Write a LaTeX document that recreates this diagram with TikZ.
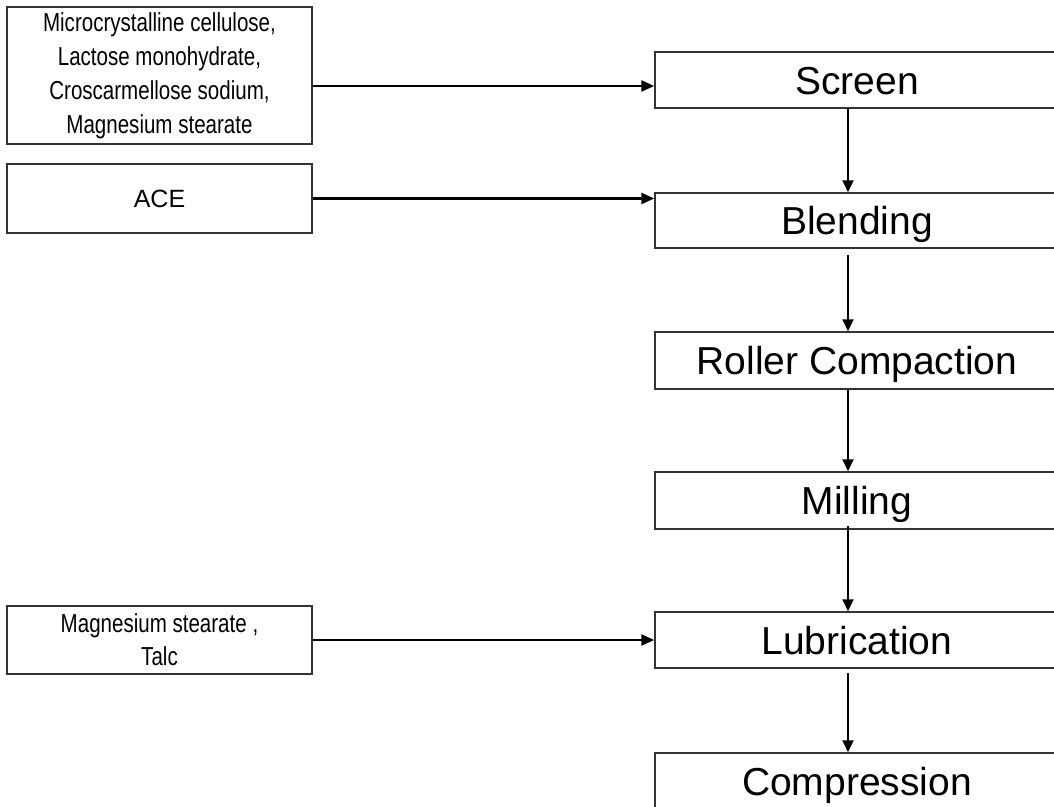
\documentclass[tikz,border=0pt]{standalone}
\usepackage{fontspec}
\setmainfont{Liberation Sans}
\newfontfamily\narrowfont[FakeStretch=0.79]{Liberation Sans}
\usepackage{tikz}
\usetikzlibrary{arrows.meta,positioning}
\definecolor{framecolor}{HTML}{333333}

\begin{document}
\begin{tikzpicture}[x=1pt,y=-1pt,
  stepbox/.style={draw=framecolor,line width=1.5pt,minimum width=404pt,minimum height=56pt,
    inner sep=0pt,text height=28pt,text depth=0pt,font=\fontsize{39}{44}\selectfont},
  inbox/.style={draw=framecolor,line width=1.5pt,minimum width=305pt,inner sep=0pt,align=center,
    font=\narrowfont\fontsize{26}{34}\selectfont},
  flow/.style={-{Triangle[length=12pt,width=11pt]},line width=2pt},
  feed/.style={-{Triangle[length=13pt,width=11pt]},line width=2.6pt}]
  \useasboundingbox (0,0) rectangle (1054,806);
  % ingredients
  \node[inbox,minimum height=137pt] (mix) at (159.5,75.5)
    {Microcrystalline cellulose,\\Lactose monohydrate,\\Croscarmellose sodium,\\Magnesium stearate};
  \node[inbox,minimum height=69pt,font=\fontsize{25}{30}\selectfont] (ace) at (159.5,198.5) {ACE};
  \node[inbox,minimum height=68pt,font=\narrowfont\fontsize{26}{33}\selectfont] (lube) at (159.5,640)
    {Magnesium stearate ,\\Talc};
  % process steps
  \node[stepbox] (screen) at (857,80) {Screen};
  \node[stepbox,minimum height=55pt] (blend) at (857,220.5) {Blending};
  \node[stepbox,minimum height=57pt] (roller) at (857,360.5) {Roller Compaction};
  \node[stepbox,minimum height=57pt] (mill) at (857,500.5) {Milling};
  \node[stepbox] (lubric) at (857,640) {Lubrication};
  \node[stepbox] (compress) at (857,781) {Compression};
  % feeds
  \draw[feed] ([yshift=-10.5pt]mix.east) -- ([yshift=-10.5pt]mix.east -| screen.west);
  \draw[feed] (ace.east) -- (ace.east -| blend.west);
  \draw[feed] (lube.east) -- (lube.east -| lubric.west);
  % main line
  \draw[flow] ([xshift=-9pt]screen.south) -- ([xshift=-9pt]blend.north);
  \draw[flow] ([xshift=-9pt,yshift=-6pt]blend.south) -- ([xshift=-9pt]roller.north);
  \draw[flow] ([xshift=-9pt]roller.south) -- ([xshift=-9pt]mill.north);
  \draw[flow] ([xshift=-9pt,yshift=4pt]mill.south) -- ([xshift=-9pt]lubric.north);
  \draw[flow] ([xshift=-9pt,yshift=-4pt]lubric.south) -- ([xshift=-9pt]compress.north);
\end{tikzpicture}
\end{document}
